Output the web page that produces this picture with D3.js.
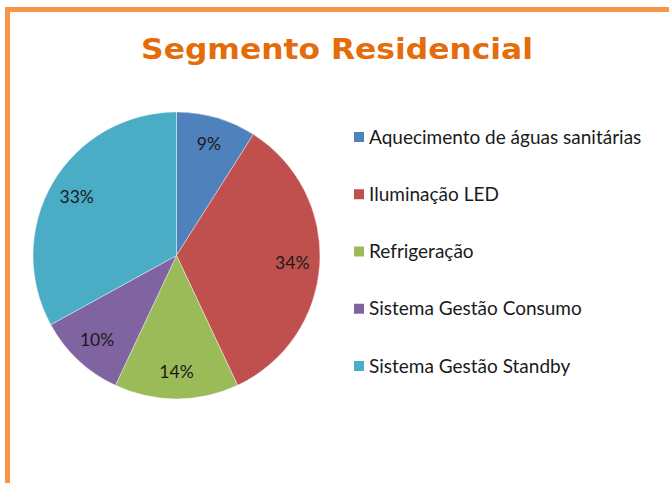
<!DOCTYPE html>
<html><head><meta charset="utf-8">
<script src="https://cdn.jsdelivr.net/npm/d3@7"></script>
<style>html,body{margin:0;padding:0;background:#fff;}svg{display:block;}</style>
</head><body>
<svg id="c" width="669" height="483"></svg>
<script>
const categories = ["Aquecimento de águas sanitárias","Iluminação LED","Refrigeração","Sistema Gestão Consumo","Sistema Gestão Standby"];
const values = [9, 34, 14, 10, 33];
const labels = ["9%","34%","14%","10%","33%"];
const colors = ["#4f81bd","#c0504d","#9bbb59","#8064a2","#4bacc6"];
const title = "Segmento Residencial";

const svg = d3.select("#c");
// frame
svg.append("path").attr("d","M7.5,483 V9.5 H669").attr("fill","none").attr("stroke","#f79646").attr("stroke-width",5);

svg.append("text").attr("transform","translate(337,59) scale(1.14,1)").attr("text-anchor","middle")
  .attr("font-family","DejaVu Sans").attr("font-weight","bold").attr("font-size",27.5)
  .attr("fill","#e46c0a").text(title);

const cx=176.5, cy=255.5, R=143.5;
const pie = d3.pie().sort(null).value(d=>d)(values);
const arc = d3.arc().innerRadius(0).outerRadius(R);
const labelArc = d3.arc().innerRadius(116).outerRadius(116);
const g = svg.append("g").attr("transform",`translate(${cx},${cy})`);
g.selectAll("path").data(pie).join("path").attr("d",arc)
  .attr("fill",(d,i)=>colors[i]).attr("stroke","#ffffff").attr("stroke-opacity",0.5).attr("stroke-width",0.8);
g.selectAll("text").data(pie).join("text")
  .attr("transform",d=>`translate(${labelArc.centroid(d)})`)
  .attr("text-anchor","middle").attr("dy","0.35em")
  .attr("font-family","Lato").attr("font-size",17.5).attr("fill","#1a1a1a")
  .text((d,i)=>labels[i]);

const y = d3.scalePoint().domain(categories).range([137,366]);
const lg = svg.append("g");
lg.selectAll("rect").data(categories).join("rect")
  .attr("x",354).attr("y",d=>y(d)-5).attr("width",10).attr("height",10)
  .attr("fill",(d,i)=>colors[i]);
lg.selectAll("text").data(categories).join("text")
  .attr("x",369).attr("y",d=>y(d)).attr("dy","0.35em")
  .attr("font-family","Lato").attr("font-size",19).attr("fill","#1a1a1a")
  .text(d=>d);
</script>
</body></html>
